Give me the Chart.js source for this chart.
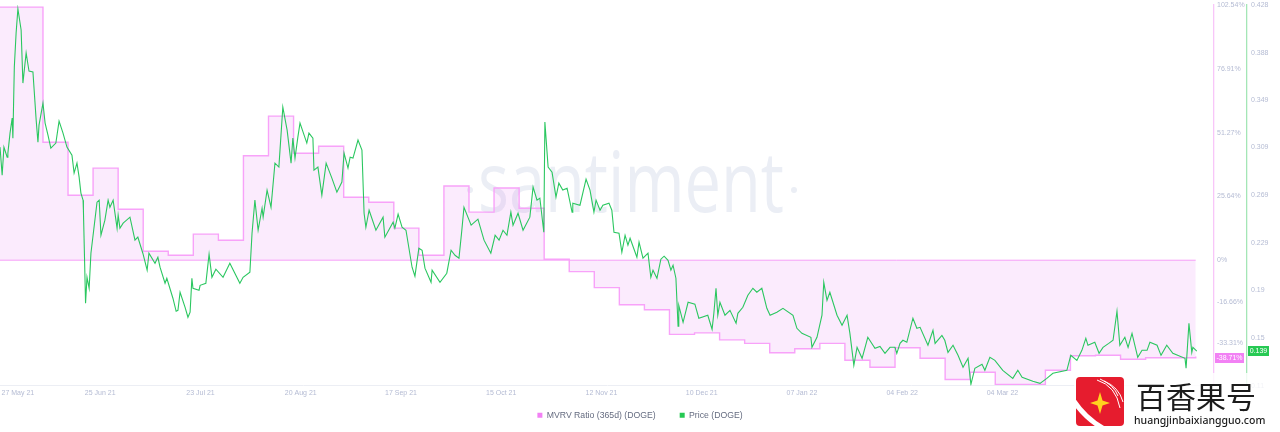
<!DOCTYPE html>
<html>
<head>
<meta charset="utf-8">
<title>MVRV Ratio and Price (DOGE)</title>
<script src="https://cdn.jsdelivr.net/npm/chart.js@4/dist/chart.umd.min.js"></script>
<style>
    html, body { margin: 0; padding: 0; background: #fff; overflow: hidden; }
    canvas { display: block; filter: blur(0.35px); }
</style>
</head>
<body>
<canvas id="chart" width="1280" height="432"></canvas>
<script>
// X axis unit is days from the left edge of the plot
const dateTicks = [5, 28, 56, 84, 112, 140, 168, 196, 224, 252, 280, 308];
const dateLabels = ['27 May 21', '25 Jun 21', '23 Jul 21', '20 Aug 21', '17 Sep 21', '15 Oct 21', '12 Nov 21', '10 Dec 21', '07 Jan 22', '04 Feb 22', '04 Mar 22', '01 Apr 22'];

const mvrvTicks = [102.54, 76.91, 51.27, 25.64, 0, -16.66, -33.31];
const priceTicks = [0.428, 0.388, 0.349, 0.309, 0.269, 0.229, 0.19, 0.15, 0.11];

const mvrvDays = [0, 12, 19, 26, 33, 40, 47, 54, 61, 68, 75, 82, 89, 96, 103, 110, 117, 124, 131, 138, 145, 152, 159, 166, 173, 180, 187, 194, 201, 208, 215, 222, 229, 236, 243, 250, 257, 264, 271, 278, 285, 292, 299, 306, 313, 320, 327, 334];
const mvrvValues = [101.7, 47.4, 26.1, 37.0, 20.5, 3.6, 2.0, 10.5, 8.0, 42.0, 57.9, 43.0, 45.8, 25.3, 23.3, 12.9, 2.0, 29.8, 19.3, 29.0, 20.9, 0.4, -4.6, -11.0, -17.9, -19.9, -29.8, -29.2, -32.0, -33.4, -37.2, -35.6, -33.4, -40.2, -43.0, -35.2, -39.4, -47.9, -45.0, -49.9, -49.9, -44.2, -38.4, -38.2, -39.8, -39.2, -39.2, -38.71];

const priceDays = [
    0.0, 0.6, 1.1, 2.0, 2.2, 2.8, 3.4, 3.6, 4.0, 4.5, 5.0, 5.9, 6.4, 7.3, 8.1, 9.2, 10.1, 10.6, 10.9, 12.0,
    12.6, 13.4, 14.2, 15.6, 16.5, 17.6, 18.7, 20.1, 20.7, 21.5, 22.1, 22.6, 23.2, 23.3, 23.9, 24.3, 24.9, 25.4, 26.0, 27.1,
    27.7, 28.2, 29.3, 30.2, 30.7, 31.6, 32.7, 33.0, 33.5, 34.4, 36.3, 37.7, 38.5, 39.9, 41.1, 41.6, 43.3, 44.1, 44.7, 46.1,
    46.6, 48.3, 49.2, 49.7, 50.3, 51.7, 52.5, 53.1, 53.6, 53.9, 55.6, 55.9, 57.5, 58.4, 59.2, 60.3, 62.3, 64.2, 67.0, 67.9,
    69.8, 70.4, 71.2, 72.1, 73.2, 73.5, 74.6, 75.7, 76.8, 77.9, 79.0, 80.2, 81.3, 81.8, 82.4, 83.2, 83.8, 85.7, 86.3, 87.4,
    87.7, 88.8, 89.9, 91.1, 92.7, 94.1, 95.5, 96.1, 97.2, 97.8, 98.6, 100.0, 101.1, 101.7, 102.2, 103.1, 105.0, 107.0, 107.5, 109.8,
    110.3, 111.2, 112.3, 113.4, 115.1, 115.9, 117.0, 117.9, 118.7, 120.4, 120.7, 122.9, 124.8, 126.0, 127.1, 128.2, 129.0, 129.6, 131.6, 133.5,
    135.2, 137.1, 138.3, 139.4, 140.5, 141.6, 142.7, 143.3, 144.7, 146.1, 148.0, 148.9, 150.0, 150.8, 151.9, 152.2, 153.1, 154.2, 155.3, 156.1,
    157.2, 158.4, 159.8, 160.0, 162.0, 163.7, 164.8, 165.9, 166.5, 167.6, 168.4, 170.1, 170.9, 171.5, 172.9, 173.7, 174.6, 175.4, 176.0, 177.9,
    178.5, 179.6, 181.0, 181.8, 182.4, 183.5, 184.6, 185.5, 186.6, 187.4, 188.0, 188.8, 189.4, 189.6, 190.8, 192.2, 194.1, 195.2, 197.7, 198.9,
    199.4, 200.0, 200.5, 201.1, 202.5, 203.9, 205.6, 206.1, 207.5, 208.9, 210.3, 211.4, 212.8, 214.2, 215.1, 217.0, 218.7, 221.5, 222.6, 224.0,
    226.5, 226.8, 228.2, 229.6, 230.1, 231.0, 231.8, 233.8, 235.2, 236.6, 237.4, 238.5, 239.4, 240.8, 242.4, 244.4, 245.8, 247.2, 248.6, 250.0,
    250.5, 251.4, 252.2, 253.3, 255.0, 256.1, 257.0, 259.2, 260.6, 261.2, 263.1, 263.9, 264.8, 266.2, 267.6, 269.0, 270.4, 271.2, 272.3, 274.3,
    275.1, 276.5, 277.9, 280.1, 282.9, 284.3, 285.5, 288.5, 290.5, 292.4, 294.1, 298.0, 299.1, 300.8, 302.2, 303.3, 303.9, 305.8, 307.0, 308.1,
    309.7, 310.9, 312.0, 312.8, 314.2, 315.1, 316.2, 317.8, 319.0, 320.4, 321.2, 323.2, 324.3, 325.9, 327.6, 331.0, 331.3, 332.1, 332.9, 333.2, 334.3
];
const priceValues = [
    .3093, .2859, .3093, .3009, .3043, .3210, .3336, .3168, .3762, .4046, .4247, .4071, .3628, .3879, .3728, .3720, .3319, .3135, .3277, .3461,
    .3294, .3193, .3085, .3127, .3310, .3210, .3093, .3026, .2876, .2959, .2842, .2709, .2650, .2566, .1789, .2006, .1914, .2207, .2357, .2633,
    .2650, .2357, .2483, .2650, .2591, .2650, .2416, .2525, .2416, .2458, .2508, .2316, .2341, .2207, .2065, .2207, .2123, .2173, .2090, .1956,
    .1998, .1831, .1722, .1730, .1881, .1755, .1672, .1714, .1998, .1914, .1898, .1939, .1956, .2199, .2006, .2073, .2006, .2123, .1956, .2006,
    .2048, .2374, .2650, .2399, .2583, .2508, .2734, .2591, .2959, .2926, .3427, .3235, .2959, .3168, .3001, .3177, .3294, .3127, .3210, .3168,
    .2901, .2926, .2692, .2959, .2834, .2717, .2801, .3043, .2918, .3009, .3001, .3152, .3068, .2541, .2424, .2566, .2399, .2508, .2341, .2466,
    .2416, .2533, .2424, .2399, .2090, .2015, .2249, .2232, .2082, .1964, .2065, .1964, .2040, .2232, .2190, .2165, .2399, .2591, .2441, .2491,
    .2316, .2207, .2357, .2316, .2399, .2357, .2550, .2441, .2541, .2399, .2508, .2759, .2650, .2667, .2382, .3302, .2926, .2884, .2675, .2792,
    .2734, .2750, .2550, .2625, .2608, .2826, .2734, .2550, .2650, .2566, .2608, .2625, .2566, .2382, .2374, .2215, .2357, .2274, .2332, .2173,
    .2299, .2165, .2207, .2006, .2065, .1998, .2157, .2182, .2148, .2065, .2107, .1998, .1597, .1772, .1630, .1797, .1781, .1664, .1689, .1572,
    .1705, .1914, .1689, .1797, .1689, .1730, .1622, .1705, .1755, .1856, .1914, .1881, .1914, .1747, .1689, .1714, .1747, .1689, .1580, .1538,
    .1505, .1421, .1505, .1689, .1964, .1814, .1881, .1689, .1605, .1689, .1538, .1271, .1421, .1329, .1505, .1413, .1429, .1371, .1421, .1421,
    .1371, .1454, .1480, .1463, .1664, .1580, .1588, .1438, .1563, .1454, .1521, .1480, .1379, .1438, .1354, .1254, .1329, .1112, .1246, .1279,
    .1229, .1337, .1312, .1229, .1162, .1229, .1170, .1137, .1120, .1162, .1204, .1229, .1354, .1312, .1396, .1496, .1438, .1463, .1371, .1421,
    .1454, .1480, .1722, .1438, .1505, .1421, .1538, .1337, .1396, .1396, .1463, .1438, .1354, .1438, .1371, .1329, .1246, .1622, .1379, .1421, .1390
];

const zeroDays = [0, 334];
const zeroValues = [0, 0];

const lastMvrv = -38.71;
const lastPrice = 0.139;

const colors = {
    mvrv: '#f8a2f9',
    mvrvSolid: '#f281f4',
    mvrvFill: 'rgba(228, 115, 242, 0.14)',
    mvrvAxis: '#f8c6f9',
    price: '#2bc760',
    priceSolid: '#26c953',
    priceAxis: '#a4e6b6',
    tick: '#b4bbd3',
    legend: '#656c80',
    grid: '#eceef4',
    watermark: '#ebeef5'
};

function zip(xs, ys) {
    return xs.map((x, i) => ({ x: x, y: ys[i] }));
}

// Axis labels may overhang the plot, keep them from moving the chart area
function noOverhang(scale) {
    scale.paddingTop = 0;
    scale.paddingBottom = 0;
    scale.paddingLeft = 0;
    scale.paddingRight = 0;
}

// The x axis box is squeezed so the legend fits; labels are clipped to the box, so grow it back
const xLabelRoomPlugin = {
    id: 'xLabelRoom',
    afterLayout(chart) {
        const x = chart.scales.x;
        x.bottom = x.top + 15;
    }
};

// Big faint word behind the data
const watermarkPlugin = {
    id: 'watermark',
    beforeDatasetsDraw(chart) {
        const ctx = chart.ctx;
        ctx.save();
        ctx.fillStyle = colors.watermark;
        ctx.font = '400 84px "Open Sans"';
        ctx.textBaseline = 'alphabetic';
        ctx.textAlign = 'left';
        ctx.fillText('santiment', 478, 212, 306);
        ctx.beginPath();
        ctx.arc(470, 190, 3, 0, Math.PI * 2);
        ctx.fill();
        ctx.beginPath();
        ctx.arc(794, 190, 3, 0, Math.PI * 2);
        ctx.fill();
        ctx.restore();
    }
};

// Current value tags on both right axes
function drawTag(ctx, text, left, width, centerY, color) {
    ctx.fillStyle = color;
    ctx.fillRect(left, Math.round(centerY) - 5, width, 10);
    ctx.fillStyle = '#fff';
    ctx.fillText(text, left + width / 2, Math.round(centerY) + 0.5);
}

const lastValuePlugin = {
    id: 'lastValue',
    afterDraw(chart) {
        const ctx = chart.ctx;
        ctx.save();
        ctx.font = '7px "Liberation Sans"';
        ctx.textAlign = 'center';
        ctx.textBaseline = 'middle';
        drawTag(ctx, lastMvrv + '%', 1215, 29, chart.scales.y1.getPixelForValue(lastMvrv) + 1, colors.mvrvSolid);
        drawTag(ctx, String(lastPrice), 1248, 21, chart.scales.y2.getPixelForValue(lastPrice), colors.priceSolid);
        ctx.restore();
    }
};

// Site badge sitting over the bottom right corner
const badgePlugin = {
    id: 'badge',
    afterDraw(chart) {
        const ctx = chart.ctx;
        ctx.save();
        ctx.fillStyle = 'rgba(255, 255, 255, 0.82)';
        ctx.fillRect(1074, 373, 206, 59);

        ctx.fillStyle = '#e61c2e';
        ctx.beginPath();
        ctx.roundRect(1076, 377, 48, 49, 4);
        ctx.fill();

        ctx.save();
        ctx.clip();
        ctx.strokeStyle = '#fff';
        ctx.lineWidth = 5;
        ctx.beginPath();
        ctx.moveTo(1072, 398);
        ctx.quadraticCurveTo(1084, 418, 1106, 430);
        ctx.stroke();
        ctx.lineWidth = 1;
        [[1097, 380, 1120, 408], [1100, 379, 1118, 396], [1104, 381, 1123, 402]].forEach(s => {
            ctx.beginPath();
            ctx.moveTo(s[0], s[1]);
            ctx.quadraticCurveTo(s[2] - 4, s[1] + 6, s[2], s[3]);
            ctx.stroke();
        });
        ctx.restore();

        ctx.fillStyle = '#ffd21f';
        ctx.beginPath();
        ctx.moveTo(1100, 392);
        ctx.lineTo(1102.5, 400.5);
        ctx.lineTo(1110, 403);
        ctx.lineTo(1102.5, 405.5);
        ctx.lineTo(1100, 414);
        ctx.lineTo(1097.5, 405.5);
        ctx.lineTo(1090, 403);
        ctx.lineTo(1097.5, 400.5);
        ctx.closePath();
        ctx.fill();

        ctx.fillStyle = '#1c1c1c';
        ctx.textAlign = 'left';
        ctx.textBaseline = 'middle';
        ctx.font = '30px "Noto Sans CJK SC"';
        ctx.fillText('百香果号', 1136, 397);
        ctx.font = '500 10.5px "Noto Sans"';
        ctx.fillText('huangjinbaixiangguo.com', 1134, 421);
        ctx.restore();
    }
};

new Chart(document.getElementById('chart').getContext('2d'), {
    type: 'line',
    data: {
        datasets: [
            {
                label: 'Price (DOGE)',
                data: zip(priceDays, priceValues),
                yAxisID: 'y2',
                borderColor: colors.price,
                borderWidth: 1.1,
                pointRadius: 0,
                tension: 0,
                order: 1
            },
            {
                label: 'MVRV Ratio (365d) (DOGE)',
                data: zip(mvrvDays, mvrvValues),
                yAxisID: 'y1',
                stepped: true,
                borderColor: colors.mvrv,
                borderWidth: 1.4,
                backgroundColor: colors.mvrvFill,
                fill: { value: 0 },
                pointRadius: 0,
                order: 2
            },
            {
                label: 'zero',
                data: zip(zeroDays, zeroValues),
                yAxisID: 'y1',
                borderColor: colors.mvrv,
                borderWidth: 1,
                pointRadius: 0,
                order: 3
            }
        ]
    },
    options: {
        responsive: false,
        animation: false,
        parsing: false,
        normalized: true,
        layout: { padding: { top: 5, bottom: 2.4, left: 0, right: 0 } },
        plugins: {
            tooltip: { enabled: false },
            legend: {
                position: 'bottom',
                labels: {
                    font: { family: 'Liberation Sans', size: 8.7 },
                    color: colors.legend,
                    boxWidth: 5,
                    boxHeight: 5,
                    padding: 24,
                    generateLabels: () => [
                        { text: 'MVRV Ratio (365d) (DOGE)', fillStyle: colors.mvrvSolid, strokeStyle: colors.mvrvSolid, lineWidth: 0, fontColor: colors.legend, datasetIndex: 1 },
                        { text: 'Price (DOGE)', fillStyle: colors.priceSolid, strokeStyle: colors.priceSolid, lineWidth: 0, fontColor: colors.legend, datasetIndex: 0 }
                    ]
                }
            }
        },
        scales: {
            x: {
                type: 'linear',
                min: 0,
                max: 339.1,
                afterBuildTicks: scale => { scale.ticks = dateTicks.map(v => ({ value: v })); },
                afterFit: scale => { scale.height = 1.5; noOverhang(scale); },
                grid: { display: false, drawTicks: false },
                border: { color: colors.grid },
                ticks: {
                    autoSkip: false,
                    maxRotation: 0,
                    padding: 3,
                    color: colors.tick,
                    font: { family: 'Liberation Sans', size: 7 },
                    callback: (value, index) => dateLabels[index]
                }
            },
            y1: {
                position: 'right',
                weight: 0,
                min: -50.3,
                max: 102.54,
                afterBuildTicks: scale => { scale.ticks = mvrvTicks.map(v => ({ value: v })); },
                afterFit: scale => { scale.width = 33; noOverhang(scale); },
                grid: { display: false, drawTicks: false },
                border: { color: colors.mvrvAxis, width: 1.3 },
                ticks: {
                    autoSkip: false,
                    padding: 3,
                    color: colors.tick,
                    font: { family: 'Liberation Sans', size: 7 },
                    callback: value => value + '%'
                }
            },
            y2: {
                position: 'right',
                weight: 1,
                min: 0.1103,
                max: 0.428,
                afterBuildTicks: scale => { scale.ticks = priceTicks.map(v => ({ value: v })); },
                afterFit: scale => { scale.width = 33; noOverhang(scale); },
                grid: { display: false, drawTicks: false },
                border: { color: colors.priceAxis, width: 1.3 },
                ticks: {
                    autoSkip: false,
                    padding: 4,
                    color: colors.tick,
                    font: { family: 'Liberation Sans', size: 7 },
                    callback: value => String(value)
                }
            }
        }
    },
    plugins: [xLabelRoomPlugin, watermarkPlugin, lastValuePlugin, badgePlugin]
});
</script>
</body>
</html>
